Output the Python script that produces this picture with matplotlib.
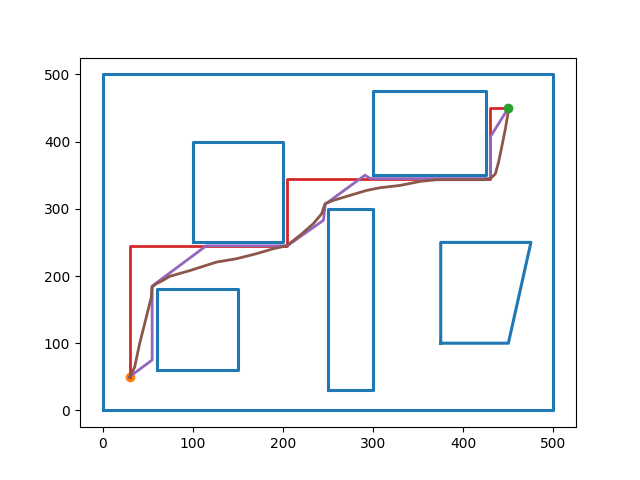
import matplotlib
matplotlib.use("Agg")
import matplotlib.pyplot as plt

# Obstacles (polygon outlines)
boundary_x = [0, 500, 500, 0, 0]
boundary_y = [0, 0, 500, 500, 0]
box1_x = [100, 200, 200, 100, 100]
box1_y = [250, 250, 400, 400, 250]
box2_x = [60, 150, 150, 60, 60]
box2_y = [60, 60, 180, 180, 60]
box3_x = [250, 300, 300, 250, 250]
box3_y = [30, 30, 300, 300, 30]
box4_x = [300, 425, 425, 300, 300]
box4_y = [350, 350, 475, 475, 350]
trap_x = [375, 450, 475, 375, 375]
trap_y = [100, 100, 250, 250, 100]

start = (30, 50)
goal = (450, 450)

# Grid path (red)
grid_x = [30, 30, 205, 205, 430, 430, 450]
grid_y = [50, 245, 245, 345, 345, 450, 450]

# Smoothed path (purple)
smooth_x = [30, 55, 55, 115, 205, 245, 247, 291, 297, 430, 430, 450]
smooth_y = [50, 75, 185, 245, 245, 283, 307, 350, 345, 345, 407, 450]

# Trajectory (brown)
traj_x = [30, 35.6, 41.1, 44.8, 50.4, 54.1, 54.8, 59.6, 67, 74.4, 96.7, 126.3,
          148.5, 170.7, 189.3, 204, 218.9, 233.7, 243, 246.7, 255.9, 274.4,
          293, 307.8, 330, 352.2, 370.8, 424.4, 430, 435.6, 439.2, 443,
          446.7, 449.2, 450]
traj_y = [49, 64.5, 99.2, 119, 148.8, 168.6, 183.5, 188.5, 193.5, 199.5, 208,
          220.7, 225.7, 233.2, 240.6, 245, 260.4, 277.8, 292.7, 307.5, 312.5,
          320, 327.4, 331.4, 334.8, 340.8, 343.3, 343.3, 344.8, 352, 369.9,
          394.3, 419.2, 439, 448]

fig, ax = plt.subplots(figsize=(6.4, 4.8), dpi=100)
for ox, oy in [(boundary_x, boundary_y), (box1_x, box1_y), (box2_x, box2_y),
               (box3_x, box3_y), (box4_x, box4_y), (trap_x, trap_y)]:
    ax.plot(ox, oy, color="C0", lw=2.2)
ax.plot(start[0], start[1], "o", color="C1", zorder=1.5)
ax.plot(goal[0], goal[1], "o", color="C2", zorder=3)
ax.plot(grid_x, grid_y, color="C3", lw=2)
ax.plot(smooth_x, smooth_y, color="C4", lw=2)
ax.plot(traj_x, traj_y, color="C5", lw=2)
fig.savefig("out.png", dpi=100)
